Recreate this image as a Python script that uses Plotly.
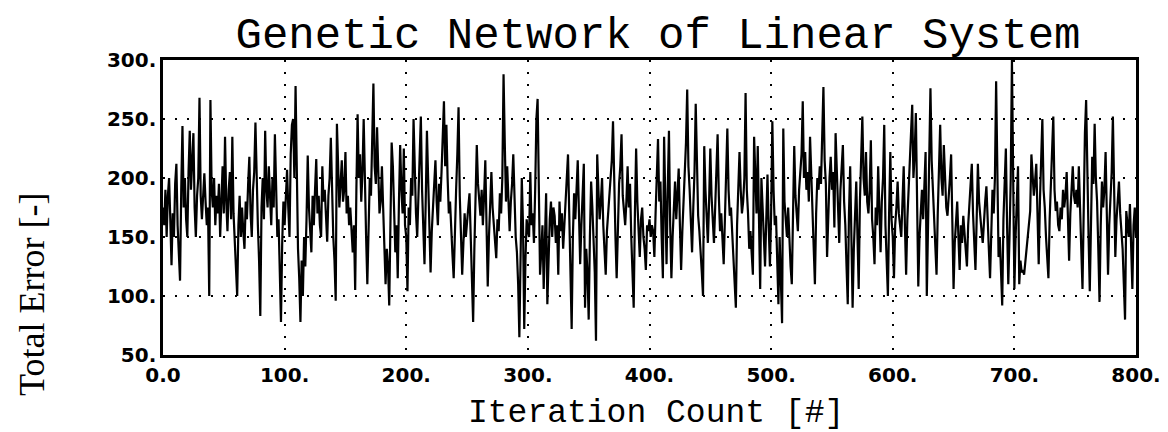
import plotly.graph_objects as go

# ---- data: total error per iteration ----
err_000 = [175,160,190,150,185,200,165,126,170,150,195,212,160,140,113,190,244,175,200,165,
           150,205,240,190,210,238,175,150,185,200,268,185,165,190,204,180,160,175,100,266,
           190,175,200,160,185,170,195,150,180,210,170,235,180,155,190,205,165,235,170,145,
           130,100,160,185,150,175,155,140,180,165,195,218,170,150,190,205,247,185,160,130,
           83,175,200,165,240,190,175,210,185,160,200,175,237,180,150,165,130,78,145,180]
err_100 = [160,185,207,175,150,220,245,250,200,278,180,140,115,78,130,100,150,125,165,219,
           175,155,137,185,160,190,216,170,185,160,150,210,180,190,165,146,185,200,234,175,
           150,130,96,246,200,175,195,215,180,190,222,170,185,160,175,150,137,160,105,190,
           254,200,220,180,205,250,190,150,110,170,200,185,230,280,210,195,243,200,170,180,
           210,175,150,110,140,125,92,160,230,210,170,137,160,115,180,228,190,170,225,160]
err_200 = [150,104,175,160,200,185,250,195,170,150,185,200,252,190,160,127,180,240,200,160,
           120,155,175,190,215,180,160,195,180,205,230,265,210,245,200,170,180,150,135,115,
           165,190,220,260,185,150,118,145,170,150,160,175,187,150,120,78,140,190,228,195,
           180,168,190,160,185,215,160,108,150,180,205,175,160,145,132,165,155,187,170,200,
           288,230,180,210,175,155,180,195,220,170,150,137,110,65,150,200,160,72,130,165]
err_300 = [155,150,205,160,170,145,190,250,267,180,118,137,160,106,150,187,93,140,165,180,
           150,175,168,145,160,118,180,155,170,140,160,185,200,220,170,130,72,150,187,165,
           195,215,170,127,160,185,212,90,140,120,80,150,197,175,150,120,62,220,190,165,
           180,200,160,140,118,155,170,180,200,215,248,190,150,115,170,195,210,237,185,170,
           160,180,210,175,195,150,120,90,170,225,180,160,133,165,175,150,140,122,160,155]
err_400 = [165,150,160,155,133,170,195,233,180,197,150,115,235,170,127,190,240,160,115,150,
           175,197,165,185,208,160,122,155,180,200,230,275,210,190,160,137,175,205,263,200,
           168,155,140,120,100,227,190,170,145,180,225,185,160,145,175,200,237,185,155,170,
           145,127,165,195,242,190,168,175,150,130,115,90,160,185,222,190,170,180,200,272,
           190,170,140,155,135,118,235,190,170,227,160,106,200,165,150,125,170,203,160,125]
err_500 = [170,248,190,160,168,130,93,150,120,77,242,180,165,150,175,140,125,110,170,227,
           185,170,155,190,205,220,265,200,222,190,205,180,235,200,180,150,110,170,200,190,
           210,195,230,277,215,195,133,180,200,218,190,205,158,238,200,175,145,190,205,228,
           180,160,125,93,170,210,150,90,140,175,197,150,106,180,215,252,200,185,222,180,
           170,190,232,165,150,127,175,160,210,170,137,180,200,245,160,130,100,170,222,165]
err_600 = [150,115,160,175,197,170,160,150,180,210,160,118,165,190,215,230,262,200,220,255,
           170,108,150,175,190,165,200,222,100,170,210,276,215,190,175,150,118,170,205,245,
           200,185,228,190,175,168,190,200,220,160,106,145,165,180,150,122,160,145,168,150,
           140,125,160,175,190,212,170,150,122,165,212,180,165,155,145,170,180,193,160,140,
           115,160,190,170,200,282,180,133,150,120,92,165,190,225,160,110,150,200,300,170]
err_700 = [106,150,175,210,110,130,120,122,118,130,137,150,160,172,220,195,185,197,212,170,
           127,180,227,250,190,175,150,130,115,165,193,215,252,190,172,180,160,155,175,165,
           190,175,185,205,160,130,170,190,210,185,178,190,175,210,165,140,106,180,238,266,
           190,150,104,170,218,195,246,200,180,140,95,160,197,175,190,222,170,118,160,185,
           205,252,180,133,165,180,197,170,155,140,110,80,172,160,150,178,140,106,160,175,
           150]

total_error = err_000 + err_100 + err_200 + err_300 + err_400 + err_500 + err_600 + err_700
iterations = list(range(len(total_error)))

x_tick_vals = [0, 100, 200, 300, 400, 500, 600, 700, 800]
x_tick_text = ["0.0", "100.", "200.", "300.", "400.", "500.", "600.", "700.", "800."]
y_tick_vals = [50, 100, 150, 200, 250, 300]
y_tick_text = ["50.", "100.", "150.", "200.", "250.", "300."]

title_text = "Genetic Network of Linear System"
x_title = "Iteration Count [#]"
y_title = "Total Error [-]"

fig = go.Figure()
fig.add_trace(go.Scatter(
    x=iterations, y=total_error, mode="lines",
    line=dict(color="black", width=2.2),
    showlegend=False, hoverinfo="skip",
))

mono = "Courier New, Liberation Mono, monospace"
tick_font = dict(family="DejaVu Sans, Verdana, sans-serif", size=20, color="black", weight="bold")

axis_common = dict(
    showline=True, linecolor="black", linewidth=2.5, mirror=True,
    showgrid=True, gridcolor="black", gridwidth=2, griddash="2px,10px",
    zeroline=False, ticks="", tickfont=tick_font,
)

M_T, M_B, M_L, M_R = 52, 85, 155, 40
W, H = 1168, 432
plot_w = W - M_L - M_R
plot_h = H - M_T - M_B
bottom_px = H - M_B

fig.update_layout(
    width=W, height=H,
    margin=dict(l=M_L, r=M_R, t=M_T, b=M_B),
    paper_bgcolor="white", plot_bgcolor="white",
    title=dict(text=title_text, x=650 / W, xanchor="center",
               y=1 - 25 / H, yanchor="middle",
               font=dict(family=mono, size=44, color="black")),
    xaxis=dict(range=[0, 800], tickvals=x_tick_vals, ticktext=x_tick_text, **axis_common),
    yaxis=dict(range=[50, 300], tickvals=y_tick_vals, ticktext=y_tick_text, **axis_common),
    annotations=[
        dict(text=x_title, xref="paper", yref="paper", x=(648 - M_L) / plot_w,
             y=(bottom_px - 405) / plot_h,
             xanchor="center", yanchor="middle", showarrow=False,
             font=dict(family=mono, size=33, color="black")),
        dict(text=y_title, xref="paper", yref="paper", x=(24 - M_L) / plot_w,
             y=(bottom_px - 287) / plot_h,
             xanchor="center", yanchor="middle", showarrow=False, textangle=-90,
             font=dict(family="Times New Roman, Liberation Serif, serif", size=36, color="black")),
    ],
)

fig.write_html("out.html")
